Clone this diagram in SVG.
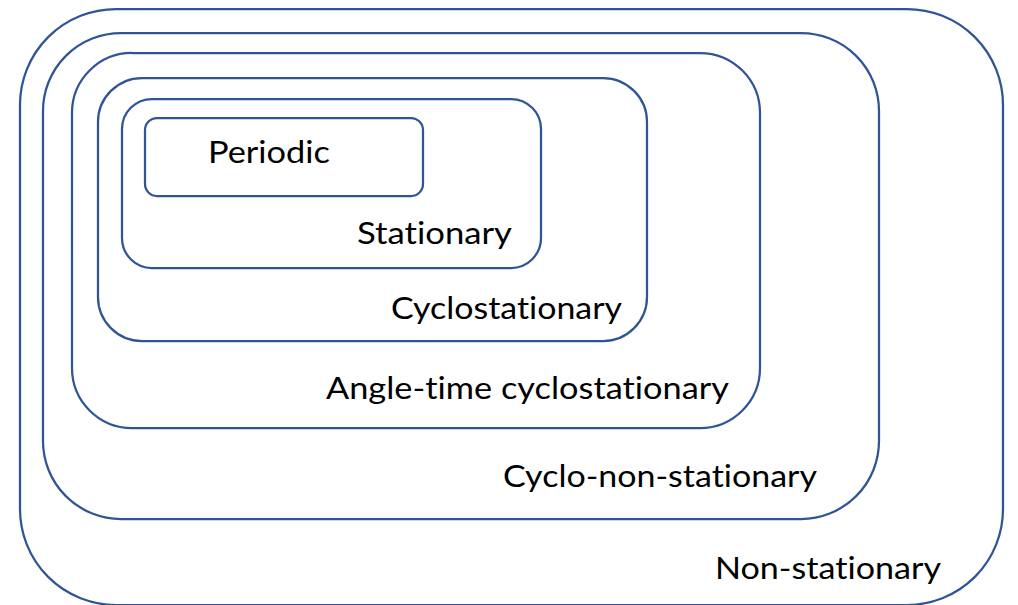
<svg xmlns="http://www.w3.org/2000/svg" width="1018" height="605" viewBox="0 0 1018 605">
<style>
.box{fill:none;stroke:#2F5597;stroke-width:2.25}
.lbl{font-family:Lato,"Open Sans","Liberation Sans",sans-serif;font-size:31px;fill:#000;font-variant-ligatures:none;font-feature-settings:"liga" 0}
</style>
<rect width="1018" height="605" fill="#fff"/>
<g id="non-stationary"><rect class="box" x="20" y="9" width="983" height="596" rx="96" ry="96"/><text class="lbl" x="715" y="579" textLength="226" lengthAdjust="spacingAndGlyphs">Non-stationary</text></g>
<g id="cyclo-non-stationary"><rect class="box" x="43" y="33" width="836" height="486" rx="78" ry="78"/><text class="lbl" x="503" y="487" textLength="314" lengthAdjust="spacingAndGlyphs">Cyclo-non-stationary</text></g>
<g id="angle-time"><rect class="box" x="72" y="53" width="688" height="375" rx="60" ry="60"/><text class="lbl" x="326" y="399" textLength="403" lengthAdjust="spacingAndGlyphs">Angle-time cyclostationary</text></g>
<g id="cyclostationary"><rect class="box" x="98" y="78" width="549" height="263" rx="44" ry="44"/><text class="lbl" x="391" y="319" textLength="231" lengthAdjust="spacingAndGlyphs">Cyclostationary</text></g>
<g id="stationary"><rect class="box" x="122" y="99" width="419" height="169" rx="30" ry="30"/><text class="lbl" x="357" y="244" textLength="155" lengthAdjust="spacingAndGlyphs">Stationary</text></g>
<g id="periodic"><rect class="box" x="145" y="118" width="278" height="78" rx="12" ry="12"/><text class="lbl" x="208" y="163" textLength="122" lengthAdjust="spacingAndGlyphs">Periodic</text></g>
<g id="connectors"/>
</svg>
